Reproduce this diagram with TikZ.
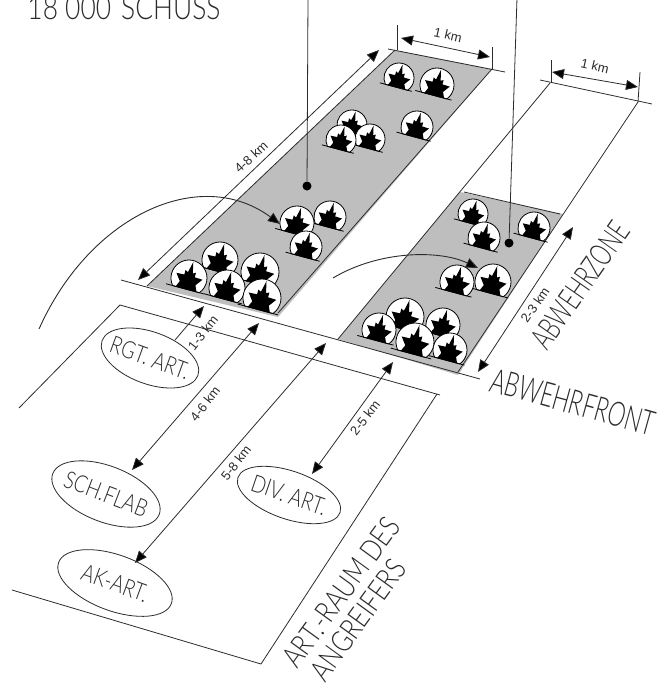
\documentclass[tikz,border=0pt]{standalone}
\usepackage{fontspec}
\usetikzlibrary{arrows.meta, shapes.geometric, calc}
\newfontfamily\letterfont[FakeStretch=0.66]{Lato}[UprightFont=* Light]
\newfontfamily\widefont[FakeStretch=0.8]{Lato}[UprightFont=* Light]
\setsansfont{Liberation Sans}
\definecolor{cink}{HTML}{2B2B2B}
\definecolor{cscreen}{HTML}{BEBEBE}
\tikzset{
  every picture/.style={x=1pt, y=-1pt, line width=0.8pt},
  thin line/.style={draw=cink, line width=0.8pt},
  span/.style={{Triangle[length=12pt,width=10pt,fill=black]}-{Triangle[length=12pt,width=10pt,fill=black]}, draw=cink, line width=0.8pt},
  shot/.style={-{Triangle[length=12pt,width=10pt,fill=black]}, draw=cink, line width=0.8pt},
  km/.style={font=\sffamily\fontsize{13}{13}\selectfont, text=cink, inner sep=0pt},
  hand/.style={font=\letterfont\fontsize{#1}{#1}\selectfont, text=cink, inner sep=0pt},
  wide/.style={font=\widefont\fontsize{#1}{#1}\selectfont, text=cink, inner sep=0pt},
  post/.style={ellipse, draw=cink, line width=0.8pt, wide=24, inner xsep=-14pt, inner ysep=0pt},
  burst/.pic={
    \begin{scope}[x=1pt, y=1pt, rotate=-15]
      \draw[draw=black, line width=0.8pt, fill=white] (-40:1) arc[start angle=-40, end angle=220, radius=1] -- cycle;
      \fill[black] (-.6,-.64) -- (-.45,-.3) -- (-.75,.1) -- (-.3,.12) -- (-.3,.38) -- (-.14,.3) -- (0,.92) -- (.14,.3) -- (.3,.38) -- (.3,.12) -- (.75,.1) -- (.45,-.3) -- (.6,-.64) -- cycle;
      \draw[draw=black, line width=0.8pt] (-1.15,-.64) -- (1.05,-.64);
    \end{scope}
  },
}
\begin{document}
\begin{tikzpicture}
  \useasboundingbox (0,0) rectangle (666,688);
  % fields
  \fill[cscreen] (147,286) -- (395,50) -- (492,69) -- (278,317) -- cycle;
  \fill[cscreen] (338,339) -- (460,192) -- (563,214) -- (458,375) -- cycle;
  \coordinate (ll) at (147,286);
  \coordinate (lt) at (395,50);
  \coordinate (rt) at (492,69);
  \coordinate (lr) at (278,313);
  \draw[thin line] (ll) -- (lt);
  \draw[thin line] (rt) -- (lr);
  \coordinate (fa) at (121,280);
  \coordinate (fb) at (480,379);
  \draw[thin line] (fa) -- (fb);
  \coordinate (ta) at (388,49);
  \coordinate (tb) at (505,72);
  \draw[thin line] (ta) -- (tb);
  % defence zone
  \coordinate (zl) at (338,339);
  \coordinate (zr) at (458,372);
  \coordinate (zlt) at (550,83);
  \coordinate (zrt) at (638,102);
  \draw[thin line] (zl) -- (zlt);
  \draw[thin line] (zr) -- (zrt);
  \coordinate (zta) at (540,80);
  \coordinate (ztb) at (652,104);
  \draw[thin line] (zta) -- (ztb);
  \coordinate (ga) at (464,192);
  \coordinate (gb) at (560,214);
  \draw[thin line] (ga) -- (gb);
  % artillery area of the attacker
  \coordinate (aa) at (120,305);
  \coordinate (ab) at (440,395);
  \coordinate (ac) at (19,408);
  \coordinate (ad) at (261,664);
  \coordinate (ae) at (12,590);
  \coordinate (af) at (437,394);
  \draw[thin line] (ac) -- (aa) -- (ab);
  \draw[thin line] (af) -- (ad) -- (ae);
  % bursts, back to front
  \foreach \x/\y/\r in {399/78/15, 437/85/17, 352/125/15, 370/139/15, 341/140/15, 417/127/16,
      330/217/16, 297/223/17, 306/247/16, 220/260/18, 260/272/19, 189/278/18, 227/288/18, 262/298/19,
      473/214/15, 534/228/16, 484/238/16, 493/282/18, 457/282/17,
      405/317/19, 443/325/17, 379/330/17, 450/350/17, 415/342/19} {
    \pic[scale=\r] at (\x,\y) {burst};
  }
  % leaders
  \coordinate (dla) at (308,-2);
  \node[circle, fill=black, inner sep=0pt, minimum size=9pt] (dl) at (307,186) {};
  \draw[thin line] (dla) -- (dl);
  \coordinate (dra) at (517,-2);
  \node[circle, fill=black, inner sep=0pt, minimum size=9pt] (dr) at (509,243) {};
  \draw[thin line] (dra) -- (dr);
  % fire arcs
  \coordinate (fla) at (39,329);
  \coordinate (flb) at (280,224);
  \draw[shot, line width=0.9pt] (fla) .. controls (90,215) and (200,165) .. (flb);
  \coordinate (fra) at (333,278);
  \coordinate (frb) at (478,268);
  \draw[shot, line width=0.9pt] (fra) .. controls (380,250) and (440,250) .. (frb);
  % spans
  \coordinate (sa) at (138,280);
  \coordinate (sb) at (379,50);
  \draw[span] (sa) -- (sb);
  \node[km, rotate=43] (lenl) at (251,157) {4-8 km};
  \coordinate (tl) at (397,25);
  \coordinate (tm) at (397,50);
  \coordinate (tn) at (492,47);
  \coordinate (to) at (492,69);
  \draw[thin line] (tl) -- (tm);
  \draw[thin line] (tn) -- (to);
  \coordinate (wa) at (401,38);
  \coordinate (wb) at (490,57);
  \draw[span] (wa) -- (wb);
  \node[km, rotate=-13] (widl) at (448,35) {1 km};
  \coordinate (tp) at (551,60);
  \coordinate (tq) at (551,83);
  \coordinate (tr) at (640,72);
  \coordinate (ts) at (638,102);
  \draw[thin line] (tp) -- (tq);
  \draw[thin line] (tr) -- (ts);
  \coordinate (xa) at (552,72);
  \coordinate (xb) at (638,87);
  \draw[span] (xa) -- (xb);
  \node[km, rotate=-13] (widr) at (595,66) {1 km};
  \coordinate (za) at (478,372);
  \coordinate (zb) at (573,227);
  \draw[span] (za) -- (zb);
  \node[km, rotate=55] (lenr) at (535,305) {2-3 km};
  % posts
  \node[post, rotate=-20, minimum width=102pt, minimum height=52pt] (rgt) at (150,358) {RGT. ART.};
  \node[post, rotate=-21, minimum width=114pt, minimum height=56pt] (sch) at (106,494) {SCH.FLAB};
  \node[post, rotate=-19, minimum width=108pt, minimum height=48pt] (div) at (289,495) {DIV. ART.};
  \node[post, rotate=-20, minimum width=120pt, minimum height=56pt] (aka) at (115,583) {AK-ART.};
  \coordinate (ra) at (204,306);
  \coordinate (rb) at (259,323);
  \coordinate (rc) at (326,343);
  \coordinate (rd) at (393,362);
  \coordinate (rs) at (175,340);
  \coordinate (re) at (132,470);
  \coordinate (rf) at (135,563);
  \coordinate (rg) at (312,474);
  \draw[shot] (rs) -- (ra);
  \draw[span] (re) -- (rb);
  \draw[span] (rf) -- (rc);
  \draw[span] (rg) -- (rd);
  \node[km, rotate=52] (rgtkm) at (203,333) {1-3 km};
  \node[km, rotate=52] (schkm) at (205,404) {4-6 km};
  \node[km, rotate=52] (akkm) at (236,463) {5-8 km};
  \node[km, rotate=52] (divkm) at (365,418) {2-5 km};
  % lettering
  \node[wide=33] (shots) at (124,8) {18 000\hspace{10pt}SCHUSS};
  \node[hand=34, rotate=-15.5] (front) at (573,402) {ABWEHRFRONT};
  \node[hand=32, rotate=55] (zone) at (580,285) {ABWEHRZONE};
  \node[wide=30, rotate=54] (raum) at (341,592) {ART.-RAUM DES};
  \node[wide=30, rotate=54] (angr) at (358,620) {ANGREIFERS};
\end{tikzpicture}
\end{document}
